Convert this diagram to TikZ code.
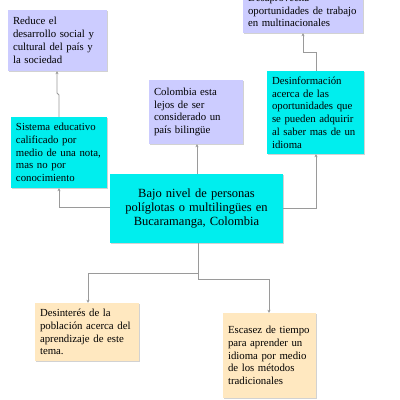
\documentclass[tikz,border=0pt]{standalone}
\usepackage{fontspec}
\setmainfont{Liberation Serif}
\usetikzlibrary{arrows.meta,shadows}
\definecolor{lav}{HTML}{CCCCFF}
\definecolor{cy}{HTML}{00EEEE}
\definecolor{peach}{HTML}{FFE8C0}
\definecolor{ln}{HTML}{9A9A9A}
\tikzset{
  box/.style={draw=none, inner xsep=5pt, inner ysep=2pt, align=left,
    font=\fontsize{10.8}{12.8}\selectfont,
    drop shadow={shadow xshift=0.8pt, shadow yshift=-0.8pt, opacity=0.35, fill=gray}},
  lavbox/.style={box, fill=lav},
  cybox/.style={box, fill=cy},
  pbox/.style={box, fill=peach},
  conn/.style={draw=ln, line width=0.9pt, -{Stealth[length=3pt,width=3pt]}}
}
\begin{document}
\begin{tikzpicture}[x=1pt,y=-1pt]
\useasboundingbox (0,0) rectangle (400,400);
\fill[white] (0,0) rectangle (400,400);
\begin{scope}
\clip (0,0) rectangle (400,400);
\node[lavbox, minimum width=99pt, minimum height=61pt, text width=89pt] (reduce) at (57.5,40.5)
  {Reduce el\\desarrollo social y\\cultural del país y\\la sociedad};
\node[cybox, minimum width=96pt, minimum height=71pt, text width=86pt] (sistema) at (59,152.5)
  {Sistema educativo\\calificado por\\medio de una nota,\\mas no por\\conocimiento};
\node[lavbox, minimum width=94pt, minimum height=64pt, text width=84pt] (colombia) at (196,112)
  {Colombia esta\\lejos de ser\\considerado un\\país bilingüe};
\node[lavbox, minimum width=120pt, minimum height=45pt, text width=110pt] (desap) at (303,10.5)
  {Desaprovecha\\oportunidades de trabajo\\en multinacionales};
\node[cybox, minimum width=97pt, minimum height=83pt, text width=87pt] (desinf) at (315.5,112.5)
  {Desinformación\\acerca de las\\oportunidades que\\se pueden adquirir\\al saber mas de un\\idioma};
\node[cybox, minimum width=173pt, minimum height=69pt, align=center, text width=163pt,
  font=\fontsize{12.5}{14.4}\selectfont] (central) at (196.5,208.5)
  {Bajo nivel de personas\\políglotas o multilingües en\\Bucaramanga, Colombia};
\node[pbox, minimum width=104pt, minimum height=58pt, text width=94pt] (desint) at (87,332)
  {Desinterés de la\\población acerca del\\aprendizaje de este\\tema.};
\node[pbox, minimum width=93pt, minimum height=85pt, text width=83pt] (escasez) at (269.5,355.5)
  {Escasez de tiempo\\para aprender un\\idioma por medio\\de los métodos\\tradicionales};
\end{scope}
\draw[conn] (central.west |- 0,207) -| (sistema.south -| 59,0);
\draw[conn] (central.east |- 0,208) -| (desinf.south -| 316,0);
\draw[conn] (central.north -| 197,0) -- (colombia.south -| 197,0);
\draw[conn] (sistema.north -| 59,0) -- (59,95) -- (57,93) -- (reduce.south -| 57,0);
\draw[conn] (desinf.north -| 316,0) -- (316,52) -- (303,52) -- (desap.south -| 303,0);
\draw[conn] (central.south -| 198,0) -- (198,273) -| (desint.north -| 88,0);
\draw[conn] (central.south -| 198,0) -- (198,279) -| (escasez.north -| 269,0);
\end{tikzpicture}
\end{document}
